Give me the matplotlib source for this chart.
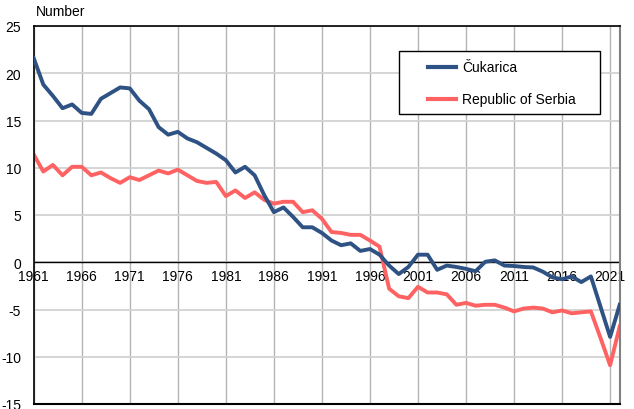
import numpy as np
import matplotlib.pyplot as plt
from matplotlib.lines import Line2D
from matplotlib.patches import Rectangle

plt.rcParams["font.family"] = ["Liberation Sans", "DejaVu Sans"]

years = np.arange(1961, 2023)

cukarica = [21.6, 18.8, 17.6, 16.3, 16.7, 15.8, 15.7, 17.3, 17.9, 18.5,
            18.4, 17.1, 16.2, 14.3, 13.5, 13.8, 13.1, 12.7, 12.1, 11.5,
            10.8, 9.5, 10.1, 9.2, 7.1, 5.3, 5.8, 4.8, 3.7, 3.7,
            3.1, 2.3, 1.8, 2.0, 1.2, 1.4, 0.8, -0.35, -1.25, -0.5,
            0.8, 0.8, -0.8, -0.35, -0.5, -0.7, -0.95, 0.05, 0.2, -0.35,
            -0.4, -0.5, -0.55, -1.0, -1.6, -1.8, -1.5, -2.1, -1.5, -4.7,
            -7.9, -4.5]

serbia = [11.4, 9.6, 10.3, 9.2, 10.1, 10.1, 9.2, 9.5, 8.9, 8.4,
          9.0, 8.7, 9.2, 9.7, 9.4, 9.8, 9.2, 8.6, 8.4, 8.5,
          7.0, 7.6, 6.8, 7.4, 6.6, 6.2, 6.4, 6.4, 5.3, 5.5,
          4.6, 3.2, 3.1, 2.9, 2.9, 2.3, 1.65, -2.8, -3.6, -3.8,
          -2.6, -3.2, -3.2, -3.4, -4.5, -4.3, -4.6, -4.5, -4.5, -4.8,
          -5.2, -4.9, -4.8, -4.9, -5.3, -5.1, -5.4, -5.3, -5.2, -8.0,
          -10.9, -6.8]

series_names = ['Čukarica', 'Republic of Serbia']
xticks = np.arange(1961, 2022, 5)
yticks = [-15, -10, -5, 0, 5, 10, 15, 20, 25]

W, H = 634, 410
fig = plt.figure(figsize=(W / 100, H / 100), dpi=100)
ax = fig.add_axes([33.7 / W, 1 - 405 / H, (619.7 - 33.7) / W, (405 - 27) / H])

ax.set_xlim(1961, 2022)
ax.set_ylim(-15, 25)

# grid
for x in xticks:
    ax.axvline(x, color='#b4b4b4', lw=1, zorder=0)
for y in yticks:
    ax.axhline(y, color='#d2d2d2', lw=1.3, zorder=0)
ax.axhline(0, color='black', lw=1, zorder=1)

l1, = ax.plot(years, cukarica, color='#2E5283', lw=2.8, zorder=3)
l2, = ax.plot(years, serbia, color='#FF6262', lw=2.8, zorder=2)

# x labels sit on the zero line
ax.spines['bottom'].set_position(('data', 0))
ax.spines['bottom'].set_visible(False)
ax.spines['left'].set_linewidth(1.2)
ax.spines['top'].set_linewidth(1.2)
ax.spines['right'].set_color('#808080')
ax.spines['right'].set_linewidth(1.5)
ax.plot([1961, 2022], [-15, -15], color='black', lw=1.5, clip_on=False, zorder=4)

ax.set_xticks(xticks)
ax.set_xticklabels([str(x) for x in xticks], fontsize=10)
ax.set_yticks(yticks)
ax.set_yticklabels([str(y) for y in yticks], fontsize=10)
ax.tick_params(axis='x', length=0, pad=5)
ax.tick_params(axis='y', length=0, pad=9)

fig.text(36 / W, 1 - 12 / H, 'Number', fontsize=10, va='center', ha='left')

# legend box drawn by hand to match the spacing of the original
fig.add_artist(Rectangle((399 / W, 1 - 115 / H), 201 / W, 63 / H,
                         transform=fig.transFigure, facecolor='white',
                         edgecolor='black', lw=1, zorder=5))
for line, name, ypx in [(l1, series_names[0], 68), (l2, series_names[1], 100)]:
    fig.add_artist(Line2D([428 / W, 456 / W], [1 - ypx / H, 1 - ypx / H],
                          transform=fig.transFigure, color=line.get_color(),
                          lw=3, zorder=6))
    fig.text(462 / W, 1 - ypx / H, name, fontsize=10, va='center', ha='left',
             zorder=6)

plt.savefig('out.png', dpi=100)
